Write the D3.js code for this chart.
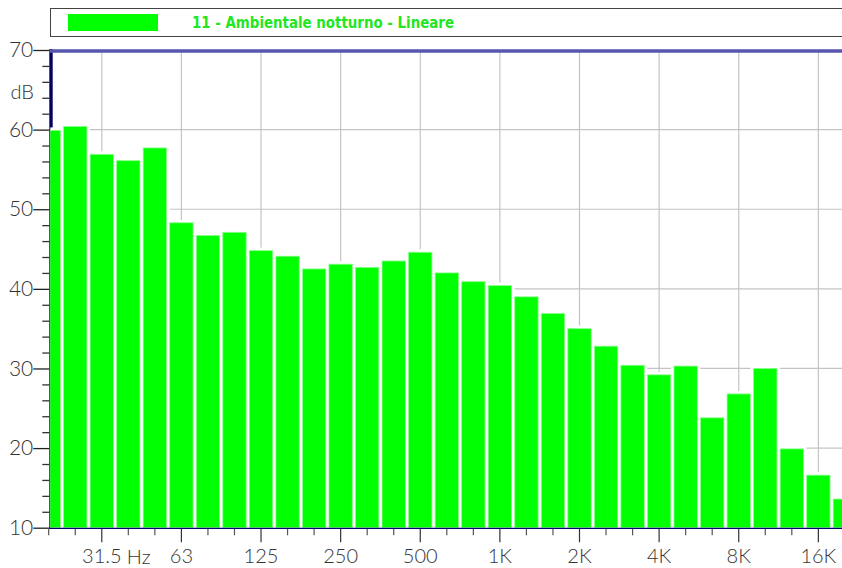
<!DOCTYPE html>
<html>
<head>
<meta charset="utf-8">
<script src="https://cdn.jsdelivr.net/npm/d3@7"></script>
<style>
  body { margin: 0; background: #fff; }
  svg { display: block; }
</style>
</head>
<body>
<svg id="chart" width="842" height="568"></svg>
<script>
// Third-octave band centres, 20 Hz – 20 kHz
const bands = ["20","25","31.5","40","50","63","80","100","125","160","200","250","315","400","500","630","800","1K","1.25K","1.6K","2K","2.5K","3.15K","4K","5K","6.3K","8K","10K","12.5K","16K","20K"];
// Band levels, dB (linear weighting)
const levels = [59.9,60.4,56.9,56.1,57.7,48.3,46.7,47.1,44.8,44.1,42.5,43.1,42.7,43.5,44.6,42.0,40.9,40.4,39.0,36.9,35.0,32.8,30.4,29.2,30.3,23.8,26.8,30.0,19.9,16.6,13.6];
// Octave bands that get a label and a vertical grid line
const octaveLabels = ["31.5","63","125","250","500","1K","2K","4K","8K","16K"];
const yMajorTicks = [10,20,30,40,50,60,70];
const yGridValues = [20,30,40,50,60];
const seriesName = "11 - Ambientale notturno - Lineare";
const yUnit = "dB";
const xUnit = "Hz";

const svg = d3.select("#chart");
const plot = { left: 50.3, right: 842, top: 50, bottom: 527.7 };
const step = 26.54, firstCenter = 48.7;
const green = "#00ff00";
const fontFamily = "Lato, 'DejaVu Sans', sans-serif";

const x = d3.scaleBand()
  .domain(bands)
  .range([firstCenter - step / 2, firstCenter - step / 2 + step * bands.length])
  .paddingInner(0.12)
  .paddingOuter(0.06);
const cx = d => x(d) + x.bandwidth() / 2;

const y = d3.scaleLinear().domain([10, 70]).range([plot.bottom, plot.top]);

// Legend
const legend = svg.append("g");
legend.append("rect")
  .attr("x", 50.5).attr("y", 8.5).attr("width", 820).attr("height", 28)
  .attr("fill", "#fff").attr("stroke", "#444").attr("stroke-width", 1);
legend.append("rect")
  .attr("x", 68).attr("y", 14).attr("width", 90).attr("height", 17)
  .attr("fill", green);
legend.append("text")
  .attr("x", 192).attr("y", 28)
  .attr("font-family", "'DejaVu Sans Condensed', 'Liberation Sans Narrow', sans-serif")
  .attr("font-weight", "bold")
  .attr("font-size", 16)
  .attr("textLength", 262)
  .attr("lengthAdjust", "spacingAndGlyphs")
  .attr("fill", "#22e622")
  .text(seriesName);

// Grid
const grid = svg.append("g").attr("stroke", "#c4c4c4").attr("stroke-width", 1.2);
grid.selectAll("line.v").data(octaveLabels).join("line")
  .attr("class", "v")
  .attr("x1", d => cx(d)).attr("x2", d => cx(d))
  .attr("y1", plot.top + 2).attr("y2", plot.bottom);
grid.selectAll("line.h").data(yGridValues).join("line")
  .attr("class", "h")
  .attr("x1", plot.left).attr("x2", plot.right)
  .attr("y1", d => y(d)).attr("y2", d => y(d));

// Left axis bar (thick) and top limit line
svg.append("line")
  .attr("x1", 51).attr("x2", 51)
  .attr("y1", plot.top - 1).attr("y2", plot.bottom + 1)
  .attr("stroke", "#000060").attr("stroke-width", 3.4);
svg.append("line")
  .attr("x1", 49.3).attr("x2", plot.right)
  .attr("y1", 51).attr("y2", 51)
  .attr("stroke", "#5656b0").attr("stroke-width", 3.4);

// Bars, clipped to the plotting area
svg.append("clipPath").attr("id", "plotClip")
  .append("rect")
  .attr("x", plot.left).attr("y", plot.top + 2.7)
  .attr("width", plot.right - plot.left).attr("height", plot.bottom - plot.top);

const data = bands.map((b, i) => ({ band: b, value: levels[i] }));
const barsG = svg.append("g").attr("clip-path", "url(#plotClip)");
barsG.selectAll("rect.halo").data(data).join("rect")
  .attr("class", "halo")
  .attr("x", d => x(d.band) - 3)
  .attr("y", d => y(d.value) - 3)
  .attr("width", x.bandwidth() + 6)
  .attr("height", d => y(10) - y(d.value) + 3)
  .attr("fill", "#fff");
barsG.selectAll("rect.bar").data(data).join("rect")
  .attr("class", "bar")
  .attr("x", d => x(d.band))
  .attr("y", d => y(d.value))
  .attr("width", x.bandwidth())
  .attr("height", d => y(10) - y(d.value))
  .attr("fill", green)
  .attr("stroke", "#8cff8c")
  .attr("stroke-width", 0.8);

// Y axis
const yAxis = svg.append("g")
  .attr("transform", "translate(49.3,0)")
  .call(d3.axisLeft(y)
    .tickValues(d3.range(10, 71, 2))
    .tickSize(7)
    .tickFormat(d => yMajorTicks.includes(d) ? d : ""));
yAxis.select(".domain").remove();
yAxis.selectAll(".tick line")
  .attr("x2", d => yMajorTicks.includes(d) ? -16 : -7)
  .attr("stroke", d => yMajorTicks.includes(d) ? "#222" : "#333")
  .attr("stroke-width", 1.3);
yAxis.selectAll(".tick text")
  .attr("x", -16)
  .attr("font-family", fontFamily)
  .attr("font-weight", 300)
  .attr("font-size", 21)
  .attr("fill", "#333");

svg.append("text")
  .attr("x", 34).attr("y", 92).attr("dy", "0.35em")
  .attr("text-anchor", "end")
  .attr("font-family", fontFamily)
  .attr("font-weight", 300)
  .attr("font-size", 20)
  .attr("fill", "#333")
  .text(yUnit);

// X axis
const xAxis = svg.append("g")
  .attr("transform", `translate(0,${plot.bottom + 0.6})`)
  .call(d3.axisBottom(x)
    .tickSize(7)
    .tickFormat(d => octaveLabels.includes(d) ? d : ""));
xAxis.select(".domain").remove();
xAxis.selectAll(".tick line")
  .attr("y2", d => octaveLabels.includes(d) ? 14 : 7)
  .attr("stroke", d => octaveLabels.includes(d) ? "#333" : "#555")
  .attr("stroke-width", 1.2);
xAxis.selectAll(".tick text")
  .attr("y", 21)
  .attr("font-family", fontFamily)
  .attr("font-weight", 300)
  .attr("font-size", 20)
  .attr("fill", "#333");

svg.append("text")
  .attr("x", cx("31.5") + 25).attr("y", plot.bottom + 0.6 + 21).attr("dy", "0.71em")
  .attr("font-family", fontFamily)
  .attr("font-weight", 300)
  .attr("font-size", 20)
  .attr("fill", "#333")
  .text(xUnit);

// Bottom axis line
svg.append("line")
  .attr("x1", 49.3).attr("x2", plot.right)
  .attr("y1", plot.bottom + 0.6).attr("y2", plot.bottom + 0.6)
  .attr("stroke", "#00006e").attr("stroke-width", 1.2);
</script>
</body>
</html>
